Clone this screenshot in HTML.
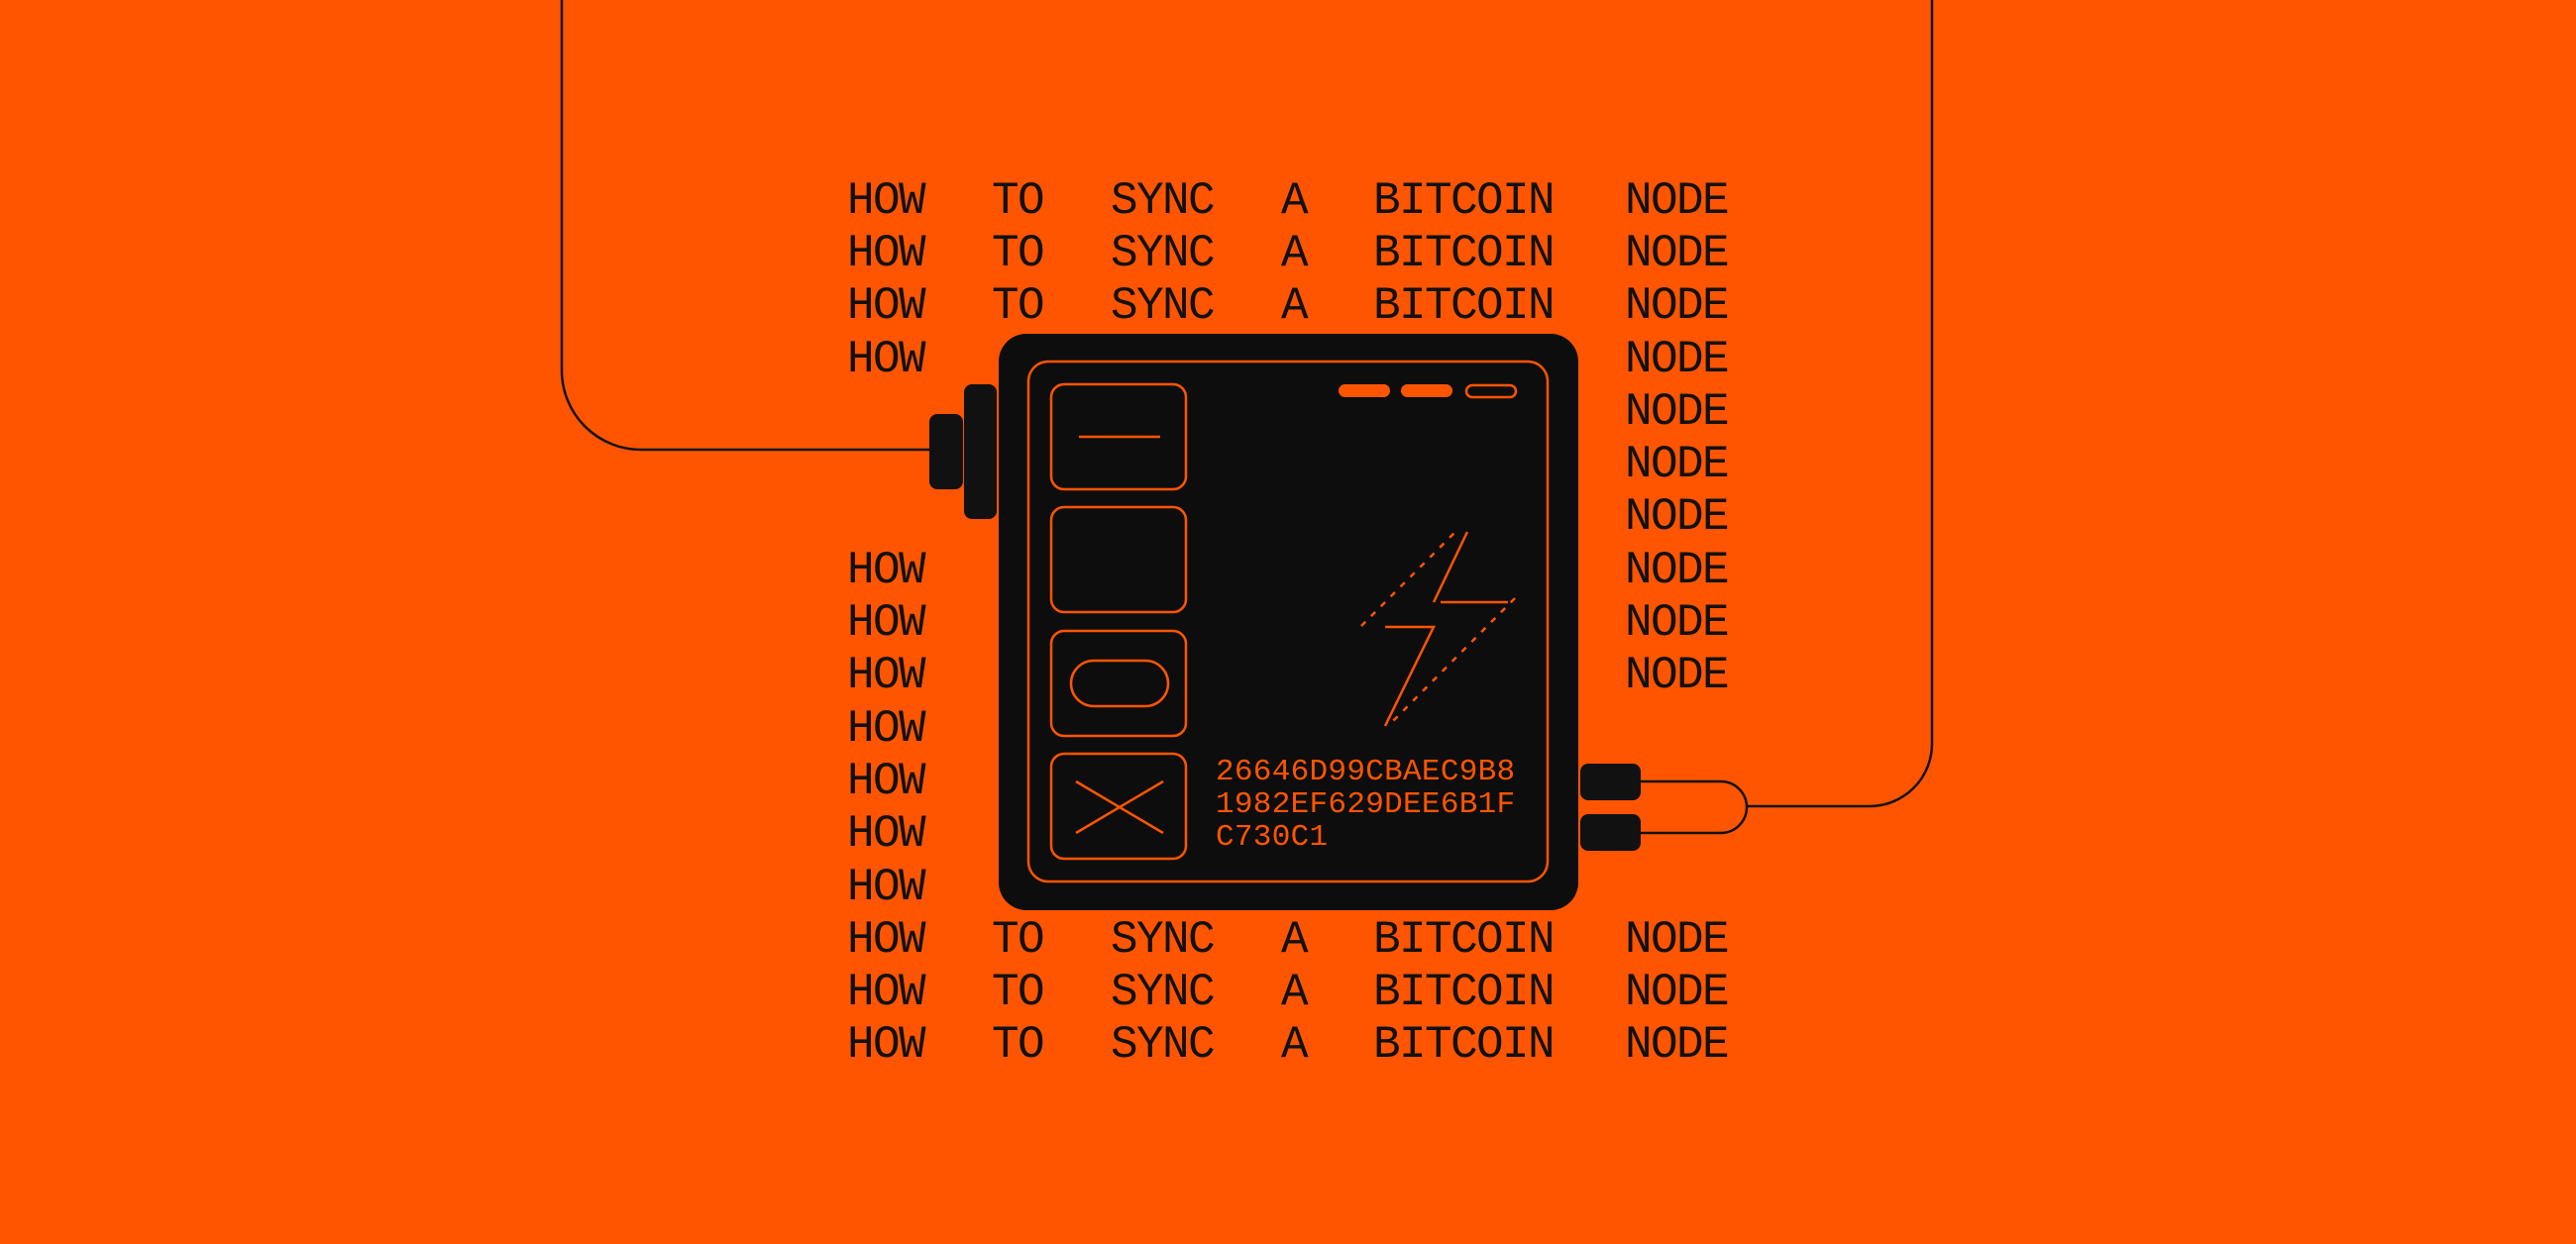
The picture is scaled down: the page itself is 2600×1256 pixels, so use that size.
<!DOCTYPE html>
<html><head><meta charset="utf-8"><style>
html,body{margin:0;padding:0}
body{width:2600px;height:1256px;background:#FF5500;position:relative;overflow:hidden}
.w{position:absolute;font-family:"Liberation Mono",monospace;font-size:46px;letter-spacing:-1.6px;color:#111;line-height:54px;height:54px}
.hex{position:absolute;left:1227px;font-family:"Liberation Mono",monospace;font-size:31px;color:#FF5500;line-height:33px;letter-spacing:0.3px}
</style></head><body>
<svg width="2600" height="1256" style="position:absolute;left:0;top:0">
<g fill="none" stroke="#111" stroke-width="2.5">
<path d="M567,0 V374 A80,80 0 0 0 647,454 H940"/>
<path d="M1950,0 V751 A63,63 0 0 1 1887,814 H1763"/>
<path d="M1653,789 H1737 A26,26 0 0 1 1737,841 H1653"/>
</g>
<rect x="938" y="418" width="34" height="76" rx="8" fill="#111"/>
<rect x="973" y="388" width="33" height="136" rx="8" fill="#111"/>
<rect x="1595" y="771" width="61" height="37" rx="8" fill="#111"/>
<rect x="1595" y="822" width="61" height="37" rx="8" fill="#111"/>
<rect x="1008" y="337" width="585" height="582" rx="28" fill="#0D0D0D"/>
<g fill="none" stroke="#FF5500" stroke-width="2.5">
<rect x="1038" y="365" width="524" height="525" rx="20"/>
<rect x="1061" y="388" width="136" height="106" rx="13"/>
<rect x="1061" y="512" width="136" height="106" rx="13"/>
<rect x="1061" y="637" width="136" height="106" rx="13"/>
<rect x="1061" y="761" width="136" height="106" rx="13"/>
<line x1="1089" y1="441" x2="1171" y2="441"/>
<rect x="1081" y="667" width="98" height="46" rx="23"/>
<line x1="1086" y1="789" x2="1174" y2="841"/>
<line x1="1174" y1="789" x2="1086" y2="841"/>
<rect x="1480" y="389" width="50" height="12" rx="6"/>
<path d="M1481,537 L1447,608"/>
<path d="M1454,608 H1522"/>
<path d="M1398,633 H1447 L1398,733"/>
<path d="M1374,632 L1469,537" stroke-dasharray="6,8"/>
<path d="M1529,604 L1401,733" stroke-dasharray="6,8"/>
</g>
<rect x="1351" y="388" width="52" height="13" rx="6.5" fill="#FF5500"/>
<rect x="1414" y="388" width="52" height="13" rx="6.5" fill="#FF5500"/>
</svg>
<div class="hex" style="top:763px">26646D99CBAEC9B8</div>
<div class="hex" style="top:796px">1982EF629DEE6B1F</div>
<div class="hex" style="top:829px">C730C1</div>
<div id="t"></div>
<script>
var cols=[855,1001,1121,1293,1386,1640],words=["HOW","TO","SYNC","A","BITCOIN","NODE"];
var rows=[[0,1,2,3,4,5],[0,1,2,3,4,5],[0,1,2,3,4,5],[0,5],[5],[5],[5],[0,5],[0,5],[0,5],[0],[0],[0],[0],[0,1,2,3,4,5],[0,1,2,3,4,5],[0,1,2,3,4,5]];
var h="";
rows.forEach(function(r,i){var c=202.6+i*53.3;r.forEach(function(k){h+='<div class="w" style="left:'+cols[k]+'px;top:'+(c-27).toFixed(1)+'px">'+words[k]+'</div>';});});
document.getElementById("t").innerHTML=h;
</script>
</body></html>
